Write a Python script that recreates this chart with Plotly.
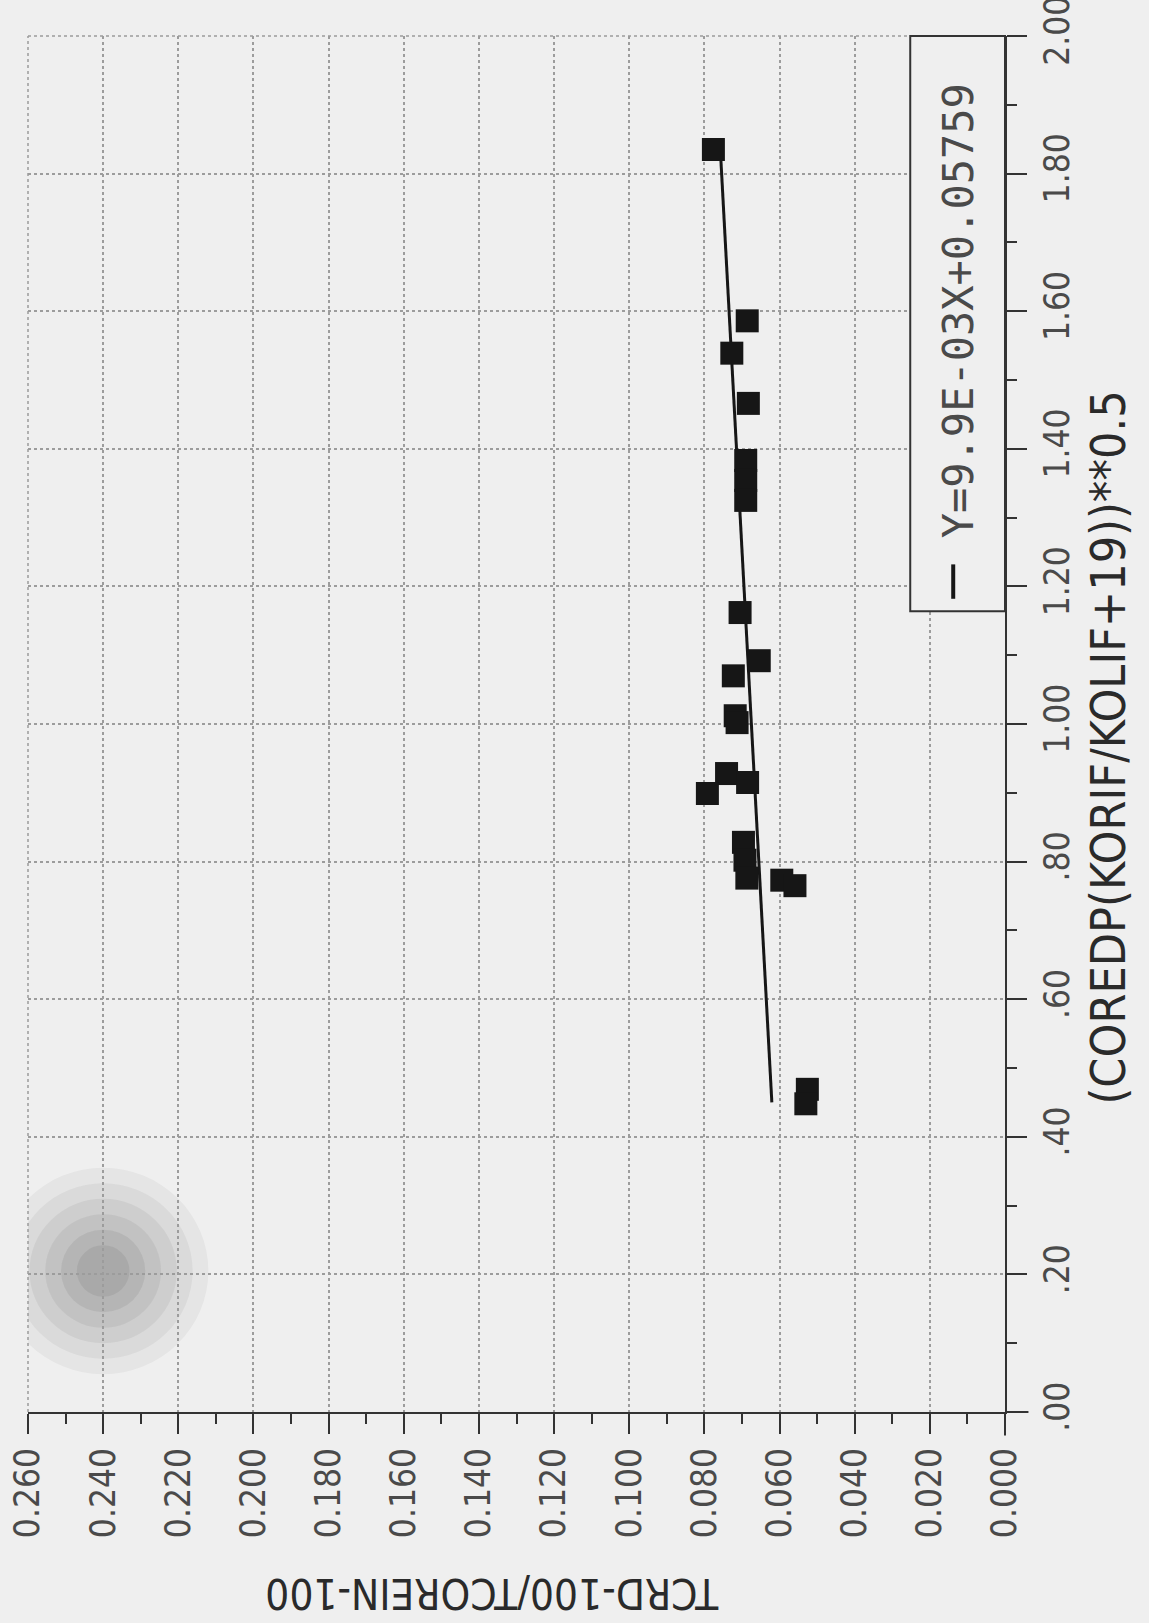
import plotly.graph_objects as go

# Measured points: core pressure-drop parameter vs. temperature ratio
coredp_param = [1.835, 1.586, 1.539, 1.466, 1.383, 1.354, 1.325, 1.162, 1.092, 1.070,
                1.012, 1.002, 0.928, 0.899, 0.915, 0.828, 0.802, 0.776, 0.773, 0.765,
                0.469, 0.448]
tcrd_ratio = [0.0776, 0.0686, 0.0727, 0.0683, 0.0690, 0.0690, 0.0690, 0.0705, 0.0654, 0.0723,
              0.0718, 0.0713, 0.0741, 0.0792, 0.0685, 0.0696, 0.0692, 0.0687, 0.0594, 0.0559,
              0.0526, 0.0530]

# Least-squares fit reported in the legend
fit_slope = 9.9e-03
fit_intercept = 0.05759
fit_x_ends = [0.45, 1.84]
fit_label = "Y=9.9E-03X+0.05759"

tcrd_ticks = [0.000, 0.020, 0.040, 0.060, 0.080, 0.100, 0.120, 0.140,
              0.160, 0.180, 0.200, 0.220, 0.240, 0.260]
coredp_ticks = [0.0, 0.2, 0.4, 0.6, 0.8, 1.0, 1.2, 1.4, 1.6, 1.8, 2.0]
coredp_ticktext = [".00", ".20", ".40", ".60", ".80", "1.00", "1.20", "1.40", "1.60", "1.80", "2.00"]

x_title = "(COREDP(KORIF/KOLIF+19))**0.5"
y_title = "TCRD-100/TCOREIN-100"

INK = "#161616"
TEXT = "#4a4a4a"
GRID = "#9c9c9c"
BG = "#efefef"
LABEL_FONT = "Liberation Sans Narrow, DejaVu Sans Condensed, Arial Narrow, sans-serif"

fit_y = [fit_slope * x + fit_intercept for x in fit_x_ends]

fig = go.Figure()

# The page is laid out turned a quarter turn: the temperature ratio runs along the
# horizontal axis (reversed) and the pressure-drop parameter runs up the right side.
fig.add_trace(go.Scatter(
    x=fit_y, y=fit_x_ends, mode="lines",
    line=dict(color=INK, width=3),
    showlegend=False, hoverinfo="skip",
))
fig.add_trace(go.Scatter(
    x=tcrd_ratio, y=coredp_param, mode="markers",
    marker=dict(symbol="square", size=23, color=INK, line=dict(width=0)),
    showlegend=False,
))

# Faint smudge in the upper-left region of the sheet
for r_frac, op in [(1.0, 0.05), (0.85, 0.06), (0.7, 0.07), (0.55, 0.08), (0.4, 0.09), (0.25, 0.09)]:
    fig.add_shape(
        type="circle", xref="x", yref="y",
        x0=0.24 - 0.028 * r_frac, x1=0.24 + 0.028 * r_frac,
        y0=0.205 - 0.15 * r_frac, y1=0.205 + 0.15 * r_frac,
        fillcolor="#3a3a3a", opacity=op, line=dict(width=0), layer="below",
    )

fig.update_xaxes(
    range=[0.26, 0.0], automargin=False,
    tickvals=tcrd_ticks, tickformat=".3f", tickangle=-90,
    ticks="outside", ticklen=20, tickwidth=2, tickcolor="#333",
    minor=dict(dtick=0.01, ticks="outside", ticklen=10, tickwidth=2, tickcolor="#333", showgrid=False),
    showline=True, linecolor="#333", linewidth=2, mirror=False,
    showgrid=True, gridcolor=GRID, griddash="dot", gridwidth=1.5,
    zeroline=False, ticklabeloverflow="allow",
    tickfont=dict(family=LABEL_FONT, size=35, color=TEXT),
)
fig.update_yaxes(
    range=[0.0, 2.0], side="right", automargin=False,
    tickvals=coredp_ticks, ticktext=coredp_ticktext, tickangle=-90,
    ticks="outside", ticklen=20, tickwidth=2, tickcolor="#333",
    minor=dict(dtick=0.1, ticks="outside", ticklen=10, tickwidth=2, tickcolor="#333", showgrid=False),
    showline=True, linecolor="#333", linewidth=2, mirror=False,
    showgrid=True, gridcolor=GRID, griddash="dot", gridwidth=1.5,
    zeroline=False, ticklabeloverflow="allow",
    tickfont=dict(family=LABEL_FONT, size=35, color=TEXT),
)

# Dotted grid along the outer (top and left) edges of the frame
fig.add_shape(type="line", xref="paper", yref="paper", x0=0, x1=1, y0=1, y1=1,
              line=dict(color=GRID, width=1.5, dash="dot"))
fig.add_shape(type="line", xref="paper", yref="paper", x0=0, x1=0, y0=0, y1=1,
              line=dict(color=GRID, width=1.5, dash="dot"))

# Axis lines run slightly past the corner where they meet
fig.add_shape(type="line", xref="paper", yref="paper", x0=1.0, x1=1.024, y0=0, y1=0,
              line=dict(color="#333", width=2))
fig.add_shape(type="line", xref="paper", yref="paper", x0=1.0, x1=1.0, y0=0, y1=-0.017,
              line=dict(color="#333", width=2))

# Legend box drawn along the right axis
fig.add_shape(type="rect", xref="paper", yref="paper", x0=0.903, x1=1.0, y0=0.582, y1=1.0,
              line=dict(color="#333", width=2), fillcolor=BG, layer="above")
fig.add_shape(type="line", xref="paper", yref="paper", x0=0.947, x1=0.947, y0=0.591, y1=0.616,
              line=dict(color=INK, width=4))
fig.add_annotation(text=fit_label, xref="paper", yref="paper", x=0.952, y=0.80,
                   textangle=-90, showarrow=False, xanchor="center", yanchor="middle",
                   font=dict(family="DejaVu Sans Mono, Liberation Mono, monospace", size=42, color=TEXT))

# Axis titles
fig.add_annotation(text=y_title, xref="paper", yref="paper", x=0.475, y=-0.132,
                   textangle=180, showarrow=False, xanchor="center", yanchor="middle",
                   font=dict(family=LABEL_FONT, size=42, color="#2a2a2a"))
fig.add_annotation(text=x_title, xref="paper", yref="paper", x=1.105, y=0.4826,
                   textangle=-90, showarrow=False, xanchor="center", yanchor="middle",
                   font=dict(family=LABEL_FONT, size=48, color="#2a2a2a"))

fig.update_layout(
    width=1149, height=1623,
    margin=dict(l=28, r=144, t=36, b=211, autoexpand=False),
    paper_bgcolor=BG, plot_bgcolor=BG,
    showlegend=False,
)

fig.write_html("out.html")
